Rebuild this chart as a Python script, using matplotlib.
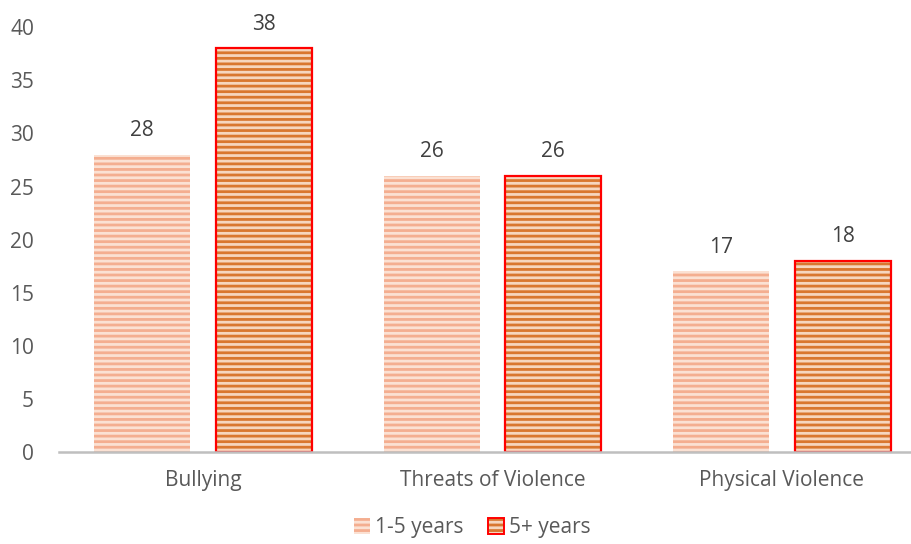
import numpy as np
import matplotlib
matplotlib.use("Agg")
import matplotlib.pyplot as plt
from matplotlib.legend_handler import HandlerTuple
import matplotlib.patches as mpatches

categories = ["Bullying", "Threats of Violence", "Physical Violence"]
series_names = ["1-5 years", "5+ years"]
vals_short = [28, 26, 17]
vals_long = [38, 26, 18]

plt.rcParams["font.family"] = ["Open Sans", "DejaVu Sans"]
plt.rcParams["hatch.linewidth"] = 2.0

FS = 15
LIGHT_FACE, LIGHT_HATCH = "#FBE1D3", "#F4AE90"
DARK_FACE, DARK_HATCH, DARK_EDGE = "#F6D6BE", "#D9772F", "#FF0000"

fig = plt.figure(figsize=(9.12, 5.44), dpi=100)
ax = fig.add_axes([0.0647, 0.169, 0.9353, 0.781])

x = np.arange(len(categories))
w = 0.332
off = 0.21

ax.bar(x - off, vals_short, w, color=LIGHT_FACE, edgecolor=LIGHT_HATCH,
       hatch="---", linewidth=0)
ax.bar(x + off, vals_long, w, color=DARK_FACE, edgecolor=DARK_HATCH,
       hatch="---", linewidth=0)
ax.bar(x + off, vals_long, w, color="none", edgecolor=DARK_EDGE, linewidth=1.6)

for xs, vs in [(x - off, vals_short), (x + off, vals_long)]:
    for xi, v in zip(xs, vs):
        ax.annotate(str(v), (xi, v), xytext=(0, 17.5), textcoords="offset points",
                    ha="center", va="center", fontsize=FS, color="#404040")

ax.set_xlim(-0.497, 2.449)
ax.set_ylim(0, 40)
ax.set_yticks(range(0, 41, 5))
ax.set_xticks(x)
ax.set_xticklabels(categories)
for s in ["top", "right", "left"]:
    ax.spines[s].set_visible(False)
ax.spines["bottom"].set_color("#BFBFBF")
ax.spines["bottom"].set_linewidth(1.8)
ax.tick_params(axis="both", length=0, labelsize=FS, colors="#595959")
ax.tick_params(axis="x", pad=13)
ax.tick_params(axis="y", pad=18)

h1 = mpatches.Patch(facecolor=LIGHT_FACE, edgecolor=LIGHT_HATCH, hatch="---", linewidth=0)
h2a = mpatches.Patch(facecolor=DARK_FACE, edgecolor=DARK_HATCH, hatch="---", linewidth=0)
h2b = mpatches.Patch(facecolor="none", edgecolor=DARK_EDGE, linewidth=1.4)
leg = fig.legend([h1, (h2a, h2b)], series_names, loc="lower center",
                 bbox_to_anchor=(0.518, -0.024), ncol=2, frameon=False, fontsize=FS,
                 handlelength=0.75, handleheight=0.75, handletextpad=0.25,
                 columnspacing=1.2, handler_map={tuple: HandlerTuple(ndivide=1)})
for t in leg.get_texts():
    t.set_color("#595959")

fig.savefig("out.png", dpi=100)
